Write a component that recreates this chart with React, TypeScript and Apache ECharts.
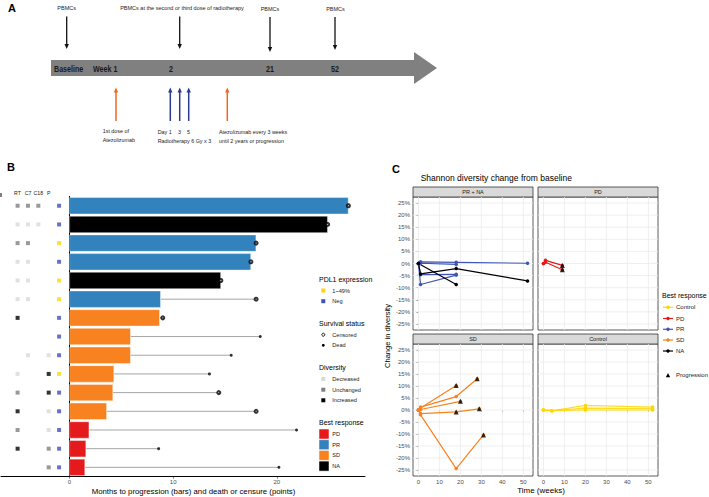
import React, { useEffect, useRef } from 'react';
import * as echarts from 'echarts';

const FONT = '"Liberation Sans", Arial, Helvetica, sans-serif';

// ---------------- Panel A: study schedule ----------------
const timelineLabels = ['Baseline', 'Week 1', '2', '21', '52'];
const pbmcLabels = ['PBMCs', 'PBMCs at the second or third dose of radiotherapy', 'PBMCs', 'PBMCs'];
const radiotherapyDays = ['Day 1', '3', '5'];

// ---------------- Panel B: swimmer plot ----------------
const patientIds = ['1', '2', '3', '4', '5', '6', '7', '8', '9', '10', '11', '12', '13', '14', '15'];
const bestResponse = ['PR', 'NA', 'PR', 'PR', 'NA', 'PR', 'SD', 'SD', 'SD', 'SD', 'SD', 'SD', 'PD', 'PD', 'PD'];
const monthsToProgression = [26.9, 24.9, 18.0, 17.5, 14.6, 8.8, 8.7, 5.9, 5.9, 4.3, 4.2, 3.6, 1.9, 1.6, 1.5];
const monthsToEvent = [26.9, 24.9, 18.0, 17.5, 14.6, 18.0, 9.0, 18.4, 15.6, 13.5, 14.4, 18.0, 21.9, 8.6, 20.2];
const survivalStatus = ['Censored', 'Censored', 'Censored', 'Censored', 'Censored', 'Censored', 'Censored', 'Dead', 'Dead', 'Dead', 'Censored', 'Censored', 'Dead', 'Dead', 'Dead'];
const diversityRT = ['Unchanged', 'Decreased', 'Unchanged', 'Decreased', 'Decreased', 'Decreased', 'Increased', null, null, 'Decreased', 'Unchanged', 'Increased', 'Unchanged', 'Increased', null];
const diversityC7 = ['Unchanged', 'Decreased', 'Unchanged', 'Decreased', 'Decreased', 'Decreased', null, null, 'Decreased', null, null, null, null, null, null];
const diversityC18 = ['Unchanged', 'Decreased', null, null, null, null, null, null, null, null, null, null, null, null, null];
const diversityP = [null, null, null, null, null, null, null, null, 'Decreased', 'Increased', 'Increased', 'Decreased', 'Decreased', 'Unchanged', 'Unchanged'];
const pdl1Expression = ['Neg', 'Neg', '1~49%', 'Neg', '1~49%', '1~49%', 'Neg', 'Neg', 'Neg', '1~49%', 'Neg', 'Neg', 'Neg', 'Neg', 'Neg'];
const trackNames = ['RT', 'C7', 'C18', 'P'];
const monthTicks = [0, 10, 20];

// ---------------- Panel C: Shannon diversity ----------------
const prTrajectory1 = [[0, 0], [1, 0.7], [18, 0.5], [52, 0.1]];
const prTrajectory2 = [[0, 0], [1, 0.1], [18, -0.4]];
const prTrajectory3 = [[0, 0], [1, -4.6], [18, -4.5]];
const prTrajectory4 = [[0, 0], [1, -8.7], [18, -4.8]];
const naTrajectory1 = [[0, 0], [18, -8.7]];
const naTrajectory2 = [[0, 0], [1, -4.3], [18, -2.1], [52, -7.2]];
const pdTrajectory1 = [[0, 0], [1, 1.3], [9, -0.8]];
const pdTrajectory2 = [[0, 0], [1, 0.5], [9, -2.6]];
const pdProgression = [[9, -0.8], [9, -2.6]];
const sdTrajectory1 = [[0, 0], [1, 0.8], [18, 10.2]];
const sdTrajectory2 = [[0, 0], [1, 1.2], [18, 5.6], [28, 13.0]];
const sdTrajectory3 = [[0, 0], [1, 0.2], [20, 3.6]];
const sdTrajectory4 = [[0, 0], [1, -1.5], [18, -0.8], [29, 0.5]];
const sdTrajectory5 = [[0, 0], [1, -2.0], [18, -24.4], [31, -10.4]];
const sdProgression = [[18, 10.2], [28, 13.0], [20, 3.6], [18, -0.8], [29, 0.5], [31, -10.4]];
const controlTrajectory1 = [[0, 0], [4, -0.3], [20, 1.9], [52, 1.2]];
const controlTrajectory2 = [[0, 0], [4, -0.3], [20, 0.8], [52, 0.6]];
const controlTrajectory3 = [[0, 0], [4, -0.3], [20, 0.0], [52, 0.0]];
const weekTicks = [0, 10, 20, 30, 40, 50];
const changeTicks = [-25, -20, -15, -10, -5, 0, 5, 10, 15, 20, 25];
const facetNames = ['PR + NA', 'PD', 'SD', 'Control'];
const responseLevels = ['Control', 'PD', 'PR', 'SD', 'NA'];

const barColors: Record<string, string> = { PD: '#E41A1C', PR: '#3182BD', SD: '#F7821F', NA: '#000000' };
const lineColors: Record<string, string> = { Control: '#FFD700', PD: '#E41A1C', PR: '#3F55B5', SD: '#F7821F', NA: '#000000' };
const diversityColors: Record<string, string> = { Decreased: '#D9D9D9', Unchanged: '#808080', Increased: '#000000' };
const pdl1Colors: Record<string, string> = { '1~49%': '#FFD700', Neg: '#3F51B5' };
const trackX: Record<string, number> = { RT: -5, C7: -4, C18: -3, P: -2, PDL1: -1 };

function txt(text: string, x: number, y: number, size: number, extra: any = {}) {
  const { align, weight, fill, rotation, scaleX } = extra;
  return {
    type: 'text', x, y, rotation: rotation || 0, scaleX: scaleX || 1,
    style: {
      text, fontSize: size, fontFamily: FONT, fill: fill || '#000',
      align: align || 'left', verticalAlign: 'middle', fontWeight: weight || 'normal',
    },
  };
}
function arrow(x: number, yStart: number, yTip: number, color: string, w = 1.3) {
  const dir = yTip > yStart ? 1 : -1;
  return [
    { type: 'line', shape: { x1: x, y1: yStart, x2: x, y2: yTip - dir * 4 }, style: { stroke: color, lineWidth: w } },
    { type: 'polygon', shape: { points: [[x - 2.2, yTip - dir * 5], [x + 2.2, yTip - dir * 5], [x, yTip]] }, style: { fill: color } },
  ];
}

function buildGraphic() {
  const g: any[] = [];
  // Panel A
  g.push(txt('A', 8, 8, 11, { weight: 'bold' }));
  g.push({ type: 'polygon', shape: { points: [[51, 60], [414, 60], [414, 52], [437, 68], [414, 84], [414, 76], [51, 76]] }, style: { fill: '#808080' } });
  const tlX = [54, 93, 171, 270, 335];
  timelineLabels.forEach((l, i) => g.push(txt(l, tlX[i], 69, 8.5, { weight: 'bold', fill: '#1a1a1a', align: i < 2 ? 'left' : 'center', scaleX: 0.84 })));
  const pbX = [66.7, 182, 270, 335.5];
  const pbY = [8, 8, 9.3, 9.3];
  pbmcLabels.forEach((l, i) => g.push(txt(l, pbX[i], pbY[i], 6, { align: 'center', fill: '#222', scaleX: 0.92 })));
  [[66.7, 16.5, 49], [179.7, 16.5, 49], [270, 17, 52], [335, 17, 50]].forEach(([x, a, b]) => g.push(...arrow(x, a, b, '#111')));
  [[116, '#F26522'], [227.3, '#F26522'], [170.3, '#2B3990'], [179.7, '#2B3990'], [188.7, '#2B3990']].forEach(([x, c]) => g.push(...arrow(x as number, 121, 87.5, c as string, 1.5)));
  const small = { fill: '#222', scaleX: 0.9 };
  g.push(txt('1st dose of', 102.7, 130.7, 6, small));
  g.push(txt('Atezolizumab', 102.7, 139.7, 6, small));
  g.push(txt(radiotherapyDays[0], 157.7, 132.3, 6, small));
  g.push(txt(radiotherapyDays[1], 179.5, 132.3, 6, { ...small, align: 'center' }));
  g.push(txt(radiotherapyDays[2], 188.5, 132.3, 6, { ...small, align: 'center' }));
  g.push(txt('Radiotherapy 6 Gy x 3', 157.7, 141, 6, small));
  g.push(txt('Atezolizumab every 3 weeks', 219, 132.3, 6, small));
  g.push(txt('until 2 years or progression', 219, 141, 6, small));

  // Panel B
  g.push(txt('B', 7, 167, 11, { weight: 'bold' }));
  const hx = [17.5, 28, 38.3, 48.7];
  trackNames.forEach((n, i) => g.push(txt(n, hx[i], 192.5, 5.2, { align: 'center', fill: '#222' })));
  g.push({ type: 'line', shape: { x1: 1, y1: 193, x2: 1, y2: 197 }, style: { stroke: '#000', lineWidth: 1 } });
  g.push(txt('Months to progression (bars) and death or censure (points)', 193.5, 491.5, 7.8, { align: 'center' }));
  // legends B
  const lx = 319;
  g.push(txt('PDL1 expression', lx, 279, 7));
  [['1~49%', 290.5], ['Neg', 301.2]].forEach(([k, y]) => {
    g.push({ type: 'rect', shape: { x: 321.3, y: (y as number) - 2, width: 4, height: 4 }, style: { fill: pdl1Colors[k as string] } });
    g.push(txt(k as string, 332.3, y as number, 5.6, { fill: '#222' }));
  });
  g.push(txt('Survival status', lx, 323.3, 7));
  g.push({ type: 'circle', shape: { cx: 323.3, cy: 334.7, r: 1.5 }, style: { fill: '#fff', stroke: '#000', lineWidth: 0.9 } });
  g.push(txt('Censored', 332.3, 334.7, 5.6, { fill: '#222' }));
  g.push({ type: 'circle', shape: { cx: 323.3, cy: 345.3, r: 1.4 }, style: { fill: '#000' } });
  g.push(txt('Dead', 332.3, 345.3, 5.6, { fill: '#222' }));
  g.push(txt('Diversity', lx, 367, 7));
  [['Decreased', 379], ['Unchanged', 389.7], ['Increased', 400.3]].forEach(([k, y]) => {
    g.push({ type: 'rect', shape: { x: 321.3, y: (y as number) - 2, width: 4, height: 4 }, style: { fill: diversityColors[k as string] } });
    g.push(txt(k as string, 332.3, y as number, 5.6, { fill: '#222' }));
  });
  g.push(txt('Best response', lx, 422, 7));
  ['PD', 'PR', 'SD', 'NA'].forEach((k, i) => {
    const y = 434 + i * 10.7;
    g.push({ type: 'rect', shape: { x: 319, y: y - 5, width: 10, height: 10 }, style: { fill: barColors[k], stroke: '#fff', lineWidth: 0.5 } });
    g.push(txt(k, 332.3, y, 5.6, { fill: '#222' }));
  });

  // Panel C
  g.push(txt('C', 392, 169, 11, { weight: 'bold' }));
  g.push(txt('Shannon diversity change from baseline', 420.7, 178, 8.5));
  const strips = [[413, 187], [538, 187], [413, 334], [538, 334]];
  facetNames.forEach((n, i) => {
    const [x, y] = strips[i];
    g.push({ type: 'rect', shape: { x, y, width: 120, height: 10 }, style: { fill: '#D9D9D9', stroke: '#333', lineWidth: 0.8 } });
    g.push(txt(n, x + 60, y + 5, 5.5, { align: 'center', fill: '#1a1a1a' }));
  });
  g.push(txt('Change in diversity', 387, 336, 7.5, { align: 'center', rotation: Math.PI / 2 }));
  g.push(txt('Time (weeks)', 541, 490, 8, { align: 'center' }));
  g.push(txt('Best response', 662, 295.5, 7));
  const ly = [307.3, 318.5, 329.3, 340, 351];
  responseLevels.forEach((k, i) => {
    g.push({ type: 'line', shape: { x1: 663, y1: ly[i], x2: 673, y2: ly[i] }, style: { stroke: lineColors[k], lineWidth: 1.2 } });
    g.push({ type: 'circle', shape: { cx: 668, cy: ly[i], r: 1.7 }, style: { fill: lineColors[k] } });
    g.push(txt(k, 676, ly[i], 6, { fill: '#222' }));
  });
  g.push({ type: 'polygon', shape: { points: [[665.8, 377.2], [670.2, 377.2], [668, 373]] }, style: { fill: '#000' } });
  g.push(txt('Progression', 676, 375, 6, { fill: '#222' }));
  return g;
}

function gridLineSeries(gi: number) {
  const data: number[][] = [];
  weekTicks.forEach((w) => data.push([0, w]));
  changeTicks.forEach((c) => data.push([1, c]));
  return {
    type: 'custom', xAxisIndex: gi, yAxisIndex: gi, z: 1, silent: true, clip: false,
    data,
    renderItem: (params: any, api: any) => {
      const cs = params.coordSys;
      const flag = api.value(0);
      const v = api.value(1);
      if (flag === 0) {
        const p = api.coord([v, 0]);
        return { type: 'line', shape: { x1: p[0], y1: cs.y, x2: p[0], y2: cs.y + cs.height }, style: { stroke: '#EBEBEB', lineWidth: 0.8 } };
      }
      const p = api.coord([0, v]);
      return { type: 'line', shape: { x1: cs.x, y1: p[1], x2: cs.x + cs.width, y2: p[1] }, style: { stroke: '#EBEBEB', lineWidth: 0.8 } };
    },
  };
}

function trajSeries(gi: number, data: number[][], resp: string) {
  return {
    type: 'line', xAxisIndex: gi, yAxisIndex: gi, data, z: 3,
    symbol: 'circle', symbolSize: 3.5, showSymbol: true,
    lineStyle: { color: lineColors[resp], width: 1.2, opacity: resp === 'Control' ? 0.85 : 1 },
    itemStyle: { color: lineColors[resp] },
  };
}
function progSeries(gi: number, data: number[][]) {
  return { type: 'scatter', xAxisIndex: gi, yAxisIndex: gi, data, z: 4, symbol: 'triangle', symbolSize: 5, itemStyle: { color: '#000' } };
}

export default function App() {
  const ref = useRef<HTMLDivElement>(null);
  useEffect(() => {
    document.body.style.margin = '0';
    const chart = echarts.init(ref.current!, null, { renderer: 'svg' });
    const facetGrids = [
      { left: 413, top: 197, width: 120, height: 133 },
      { left: 538, top: 197, width: 120, height: 133 },
      { left: 413, top: 344, width: 120, height: 132 },
      { left: 538, top: 344, width: 120, height: 132 },
    ];
    const axisFont = { fontFamily: FONT, fontSize: 6, color: '#4D4D4D' };
    const xAxes: any[] = [
      {
        gridIndex: 0, type: 'value', min: -6.6, max: 28.5,
        axisLine: { show: true, lineStyle: { color: '#000', width: 1 } },
        axisTick: { show: true, customValues: monthTicks, length: 2, lineStyle: { color: '#333', width: 0.6 } },
        axisLabel: { ...axisFont, customValues: monthTicks, margin: 2.5 },
        splitLine: { show: false },
      },
    ];
    const yAxes: any[] = [
      {
        gridIndex: 0, type: 'category', data: patientIds, inverse: true,
        axisLine: { show: true, lineStyle: { color: '#000', width: 1 } },
        axisTick: { show: false }, axisLabel: { show: false }, splitLine: { show: false },
      },
    ];
    facetGrids.forEach((_, i) => {
      const bottom = i >= 2;
      const left = i % 2 === 0;
      xAxes.push({
        gridIndex: i + 1, type: 'value', min: -2.6, max: 54.6,
        axisLine: { show: false }, splitLine: { show: false },
        axisTick: { show: bottom, customValues: weekTicks, length: 2, lineStyle: { color: '#333', width: 0.6 } },
        axisLabel: { show: bottom, ...axisFont, customValues: weekTicks, margin: 3 },
      });
      yAxes.push({
        gridIndex: i + 1, type: 'value', min: -27.5, max: 27.5,
        axisLine: { show: false }, splitLine: { show: false },
        axisTick: { show: left, customValues: changeTicks, length: 2, lineStyle: { color: '#333', width: 0.6 } },
        axisLabel: { show: left, ...axisFont, customValues: changeTicks, margin: 3, formatter: (v: number) => `${v}%` },
      });
    });

    const diversityTracks: [string, (string | null)[]][] = [['RT', diversityRT], ['C7', diversityC7], ['C18', diversityC18], ['P', diversityP]];
    const diversityData: any[] = [];
    diversityTracks.forEach(([name, vals]) => vals.forEach((d, i) => {
      if (d) diversityData.push({ value: [trackX[name], i], itemStyle: { color: diversityColors[d] } });
    }));

    const series: any[] = [
      {
        type: 'custom', xAxisIndex: 0, yAxisIndex: 0, z: 2,
        data: monthsToProgression.map((v, i) => [v, monthsToEvent[i], i]),
        encode: { x: [0, 1], y: 2 },
        renderItem: (_p: any, api: any) => {
          const row = api.value(2);
          const a = api.coord([api.value(0), row]);
          const b = api.coord([api.value(1), row]);
          return { type: 'line', shape: { x1: a[0], y1: a[1], x2: b[0], y2: b[1] }, style: { stroke: '#A6A6A6', lineWidth: 1 } };
        },
      },
      {
        type: 'bar', xAxisIndex: 0, yAxisIndex: 0, z: 3, barWidth: '90%',
        data: monthsToProgression.map((v, i) => ({ value: v, itemStyle: { color: barColors[bestResponse[i]], borderColor: '#fff', borderWidth: 0.4 } })),
      },
      {
        type: 'scatter', xAxisIndex: 0, yAxisIndex: 0, z: 4, symbol: 'emptyCircle', symbolSize: 3,
        itemStyle: { color: '#000', borderColor: '#000', borderWidth: 0.8 },
        data: monthsToEvent.map((v, i) => (survivalStatus[i] === 'Censored' ? [v, i] : null)).filter(Boolean),
      },
      {
        type: 'scatter', xAxisIndex: 0, yAxisIndex: 0, z: 4, symbol: 'circle', symbolSize: 3,
        itemStyle: { color: '#000' },
        data: monthsToEvent.map((v, i) => (survivalStatus[i] === 'Dead' ? [v, i] : null)).filter(Boolean),
      },
      { type: 'scatter', xAxisIndex: 0, yAxisIndex: 0, z: 4, symbol: 'rect', symbolSize: 4, data: diversityData },
      {
        type: 'scatter', xAxisIndex: 0, yAxisIndex: 0, z: 4, symbol: 'rect', symbolSize: 4,
        data: pdl1Expression.map((p, i) => ({ value: [trackX.PDL1, i], itemStyle: { color: pdl1Colors[p] } })),
      },
      gridLineSeries(1), gridLineSeries(2), gridLineSeries(3), gridLineSeries(4),
      trajSeries(1, prTrajectory1, 'PR'), trajSeries(1, prTrajectory2, 'PR'), trajSeries(1, prTrajectory3, 'PR'), trajSeries(1, prTrajectory4, 'PR'),
      trajSeries(1, naTrajectory1, 'NA'), trajSeries(1, naTrajectory2, 'NA'),
      trajSeries(2, pdTrajectory1, 'PD'), trajSeries(2, pdTrajectory2, 'PD'), progSeries(2, pdProgression),
      trajSeries(3, sdTrajectory1, 'SD'), trajSeries(3, sdTrajectory2, 'SD'), trajSeries(3, sdTrajectory3, 'SD'),
      trajSeries(3, sdTrajectory4, 'SD'), trajSeries(3, sdTrajectory5, 'SD'), progSeries(3, sdProgression),
      trajSeries(4, controlTrajectory1, 'Control'), trajSeries(4, controlTrajectory2, 'Control'), trajSeries(4, controlTrajectory3, 'Control'),
    ];

    chart.setOption({
      animation: false,
      backgroundColor: '#fff',
      textStyle: { fontFamily: FONT },
      grid: [
        { left: 1, top: 196.4, width: 364, height: 280.3, show: false, outerBoundsMode: 'none' },
        ...facetGrids.map((g) => ({ ...g, show: true, borderColor: '#333', borderWidth: 0.8, backgroundColor: '#fff', outerBoundsMode: 'none' })),
      ],
      xAxis: xAxes,
      yAxis: yAxes,
      series,
      graphic: buildGraphic(),
    });
    return () => chart.dispose();
  }, []);
  return <div ref={ref} style={{ width: 709, height: 497 }} />;
}
